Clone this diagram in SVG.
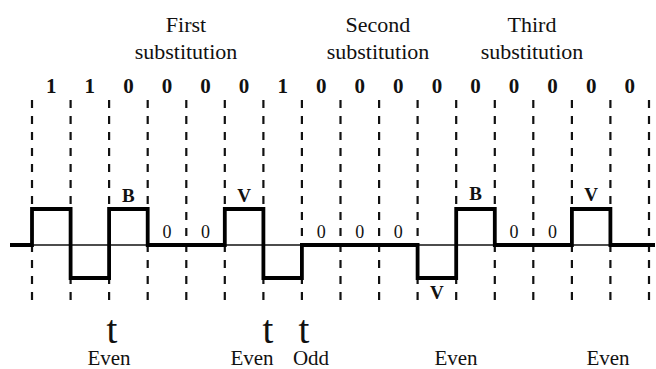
<svg xmlns="http://www.w3.org/2000/svg" width="656" height="369" viewBox="0 0 656 369">
<style>
.title{font-family:"Liberation Serif","Times New Roman",serif;font-size:22px;fill:#111;text-anchor:middle}
.bit{font-family:"Liberation Serif","Times New Roman",serif;font-size:21px;font-weight:bold;fill:#111;text-anchor:middle}
.bv{font-family:"Liberation Serif","Times New Roman",serif;font-size:19px;font-weight:bold;fill:#111;text-anchor:middle}
.zero{font-family:"Liberation Serif","Times New Roman",serif;font-size:18px;fill:#111;text-anchor:middle}
.t{font-family:"Liberation Serif","Times New Roman",serif;font-size:39px;fill:#111;text-anchor:middle}
.par{font-family:"Liberation Serif","Times New Roman",serif;font-size:21px;fill:#111;text-anchor:middle}
.dash{stroke:#111;stroke-width:2.2;stroke-dasharray:8 8;fill:none}
.axis{stroke:#111;stroke-width:1.6;fill:none}
.wave{stroke:#000;stroke-width:3.8;fill:none;stroke-linejoin:miter}
</style>
<rect width="656" height="369" fill="#fff"/>
<g id="titles">
<text class="title" x="186" y="32">First</text>
<text class="title" x="186" y="59">substitution</text>
<text class="title" x="378" y="32">Second</text>
<text class="title" x="378" y="59">substitution</text>
<text class="title" x="532" y="32">Third</text>
<text class="title" x="532" y="59">substitution</text>
</g>
<g id="bits">
<text class="bit" x="51.3" y="93">1</text>
<text class="bit" x="89.8" y="93">1</text>
<text class="bit" x="128.4" y="93">0</text>
<text class="bit" x="167" y="93">0</text>
<text class="bit" x="205.5" y="93">0</text>
<text class="bit" x="244.1" y="93">0</text>
<text class="bit" x="282.7" y="93">1</text>
<text class="bit" x="321.2" y="93">0</text>
<text class="bit" x="359.8" y="93">0</text>
<text class="bit" x="398.3" y="93">0</text>
<text class="bit" x="436.9" y="93">0</text>
<text class="bit" x="475.5" y="93">0</text>
<text class="bit" x="514.1" y="93">0</text>
<text class="bit" x="552.6" y="93">0</text>
<text class="bit" x="591.2" y="93">0</text>
<text class="bit" x="629.7" y="93">0</text>
</g>
<g id="grid">
<line class="dash" x1="32" y1="100" x2="32" y2="306"/>
<line class="dash" x1="70.6" y1="100" x2="70.6" y2="306"/>
<line class="dash" x1="109.1" y1="100" x2="109.1" y2="306"/>
<line class="dash" x1="147.7" y1="100" x2="147.7" y2="306"/>
<line class="dash" x1="186.3" y1="100" x2="186.3" y2="306"/>
<line class="dash" x1="224.8" y1="100" x2="224.8" y2="306"/>
<line class="dash" x1="263.4" y1="100" x2="263.4" y2="306"/>
<line class="dash" x1="301.9" y1="100" x2="301.9" y2="306"/>
<line class="dash" x1="340.5" y1="100" x2="340.5" y2="306"/>
<line class="dash" x1="379.1" y1="100" x2="379.1" y2="306"/>
<line class="dash" x1="417.6" y1="100" x2="417.6" y2="306"/>
<line class="dash" x1="456.2" y1="100" x2="456.2" y2="306"/>
<line class="dash" x1="494.8" y1="100" x2="494.8" y2="306"/>
<line class="dash" x1="533.3" y1="100" x2="533.3" y2="306"/>
<line class="dash" x1="571.9" y1="100" x2="571.9" y2="306"/>
<line class="dash" x1="610.4" y1="100" x2="610.4" y2="306"/>
<line class="dash" x1="649" y1="100" x2="649" y2="306"/>
</g>
<g id="signal">
<line class="axis" x1="10" y1="245" x2="655" y2="245"/>
<path class="wave" d="M10,245 H32 V209 H70.6 V278 H109.1 V209 H147.7 V245 H224.8 V209 H263.4 V278 H301.9 V245 H417.6 V278 H456.2 V209 H494.8 V245 H571.9 V209 H610.4 V245 H655"/>
</g>
<g id="pulse-labels">
<text class="bv" x="128.4" y="202">B</text>
<text class="zero" x="167" y="238">0</text>
<text class="zero" x="205.5" y="238">0</text>
<text class="bv" x="244.1" y="202">V</text>
<text class="zero" x="321.2" y="238">0</text>
<text class="zero" x="359.8" y="238">0</text>
<text class="zero" x="398.3" y="238">0</text>
<text class="bv" x="436.9" y="299">V</text>
<text class="bv" x="475.5" y="200">B</text>
<text class="zero" x="514.1" y="238">0</text>
<text class="zero" x="552.6" y="238">0</text>
<text class="bv" x="591.2" y="201">V</text>
</g>
<g id="parity">
<text class="t" x="112" y="343">t</text>
<text class="t" x="268" y="343">t</text>
<text class="t" x="304" y="343">t</text>
<text class="par" x="109" y="365">Even</text>
<text class="par" x="252" y="365">Even</text>
<text class="par" x="311" y="365">Odd</text>
<text class="par" x="456" y="365">Even</text>
<text class="par" x="608" y="365">Even</text>
</g>
</svg>
